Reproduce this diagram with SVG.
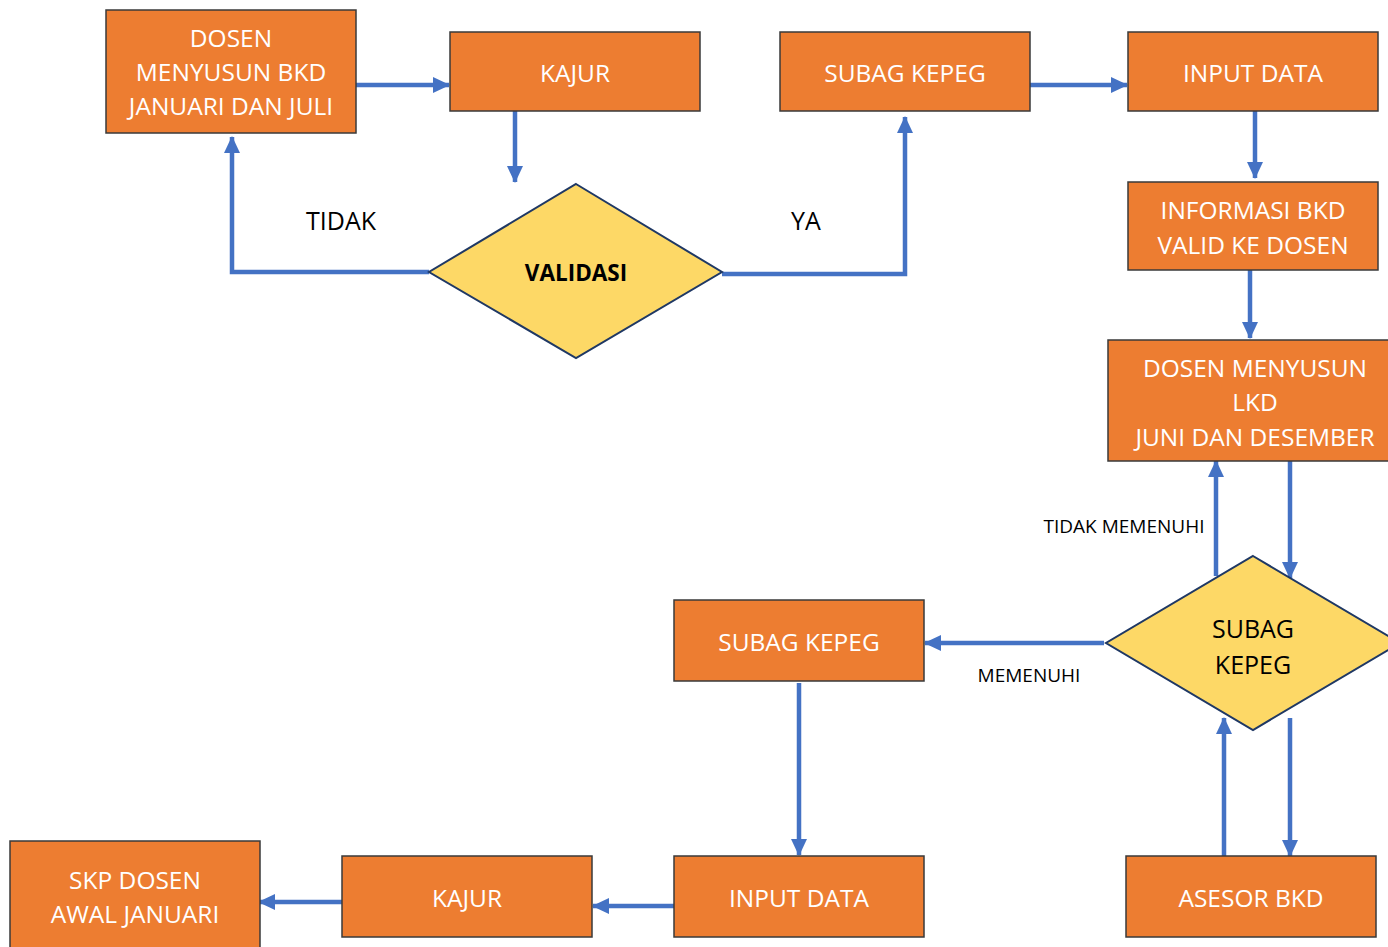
<svg xmlns="http://www.w3.org/2000/svg" width="1388" height="947" viewBox="0 0 1388 947">
<defs>
<style>
.box{fill:#ED7D31;stroke:#3a3a3a;stroke-width:1.5}
.dia{fill:#FDD866;stroke:#1F3864;stroke-width:2}
.bt{font-family:"Open Sans","Liberation Sans",sans-serif;font-size:24.5px;fill:#ffffff;text-anchor:middle}
.dt{font-family:"Open Sans","Liberation Sans",sans-serif;font-size:25px;fill:#000;text-anchor:middle}
.lb{font-family:"Open Sans","Liberation Sans",sans-serif;fill:#000;text-anchor:middle}
.c{fill:none;stroke:#4472C4;stroke-width:4.5;marker-end:url(#ah)}
</style>
<marker id="ah" markerUnits="userSpaceOnUse" markerWidth="18" markerHeight="18" viewBox="0 0 18 18" refX="16" refY="9" orient="auto">
<path d="M0,1 L17,9 L0,17 Z" fill="#4472C4"/>
</marker>
</defs>
<rect width="1388" height="947" fill="#fff"/>
<g id="connectors">
<path class="c" d="M356,85 H449"/>
<path class="c" d="M515,111 V182"/>
<path class="c" d="M429,272 H232 V137"/>
<path class="c" d="M722,274 H905 V117"/>
<path class="c" d="M1030,85 H1127"/>
<path class="c" d="M1255,111 V178"/>
<path class="c" d="M1250,270 V338"/>
<path class="c" d="M1290,461 V578"/>
<path class="c" d="M1216,576 V461"/>
<path class="c" d="M1104,643 H925"/>
<path class="c" d="M799,683 V855"/>
<path class="c" d="M674,906 H593"/>
<path class="c" d="M342,902 H259"/>
<path class="c" d="M1224,856 V718"/>
<path class="c" d="M1290,718 V856"/>
</g>
<g id="n-bkd"><rect class="box" x="106" y="10" width="250" height="123"/>
<text class="bt" x="231" y="47">DOSEN</text><text class="bt" x="231" y="81">MENYUSUN BKD</text><text class="bt" x="231" y="115">JANUARI DAN JULI</text></g>
<g id="n-kajur1"><rect class="box" x="450" y="32" width="250" height="79"/><text class="bt" x="575" y="82">KAJUR</text></g>
<g id="n-subag1"><rect class="box" x="780" y="32" width="250" height="79"/><text class="bt" x="905" y="82">SUBAG KEPEG</text></g>
<g id="n-input1"><rect class="box" x="1128" y="32" width="250" height="79"/><text class="bt" x="1253" y="82">INPUT DATA</text></g>
<g id="n-info"><rect class="box" x="1128" y="182" width="250" height="88"/>
<text class="bt" x="1253" y="219">INFORMASI BKD</text><text class="bt" x="1253" y="254">VALID KE DOSEN</text></g>
<g id="n-lkd"><rect class="box" x="1108" y="340" width="290" height="121"/>
<text class="bt" x="1255" y="377">DOSEN MENYUSUN</text><text class="bt" x="1255" y="411">LKD</text><text class="bt" x="1255" y="446">JUNI DAN DESEMBER</text></g>
<g id="n-validasi"><polygon class="dia" points="576,184 722,272 576,358 429,272"/>
<text class="dt" x="576" y="281" font-weight="bold" style="font-size:22.5px">VALIDASI</text></g>
<g id="n-subag-dec"><polygon class="dia" points="1253,556 1400,643 1253,730 1106,643"/>
<text class="dt" x="1253" y="638">SUBAG</text><text class="dt" x="1253" y="674">KEPEG</text></g>
<g id="n-subag2"><rect class="box" x="674" y="600" width="250" height="81"/><text class="bt" x="799" y="651">SUBAG KEPEG</text></g>
<g id="n-input2"><rect class="box" x="674" y="856" width="250" height="81"/><text class="bt" x="799" y="907">INPUT DATA</text></g>
<g id="n-kajur2"><rect class="box" x="342" y="856" width="250" height="81"/><text class="bt" x="467" y="907">KAJUR</text></g>
<g id="n-skp"><rect class="box" x="10" y="841" width="250" height="115"/>
<text class="bt" x="135" y="889">SKP DOSEN</text><text class="bt" x="135" y="923">AWAL JANUARI</text></g>
<g id="n-asesor"><rect class="box" x="1126" y="856" width="250" height="81"/><text class="bt" x="1251" y="907">ASESOR BKD</text></g>
<g id="labels">
<text class="lb" x="341" y="230" style="font-size:25px">TIDAK</text>
<text class="lb" x="806" y="230" style="font-size:25px">YA</text>
<text class="lb" x="1124" y="533" style="font-size:19px">TIDAK MEMENUHI</text>
<text class="lb" x="1029" y="682" style="font-size:19px">MEMENUHI</text>
</g>
</svg>
